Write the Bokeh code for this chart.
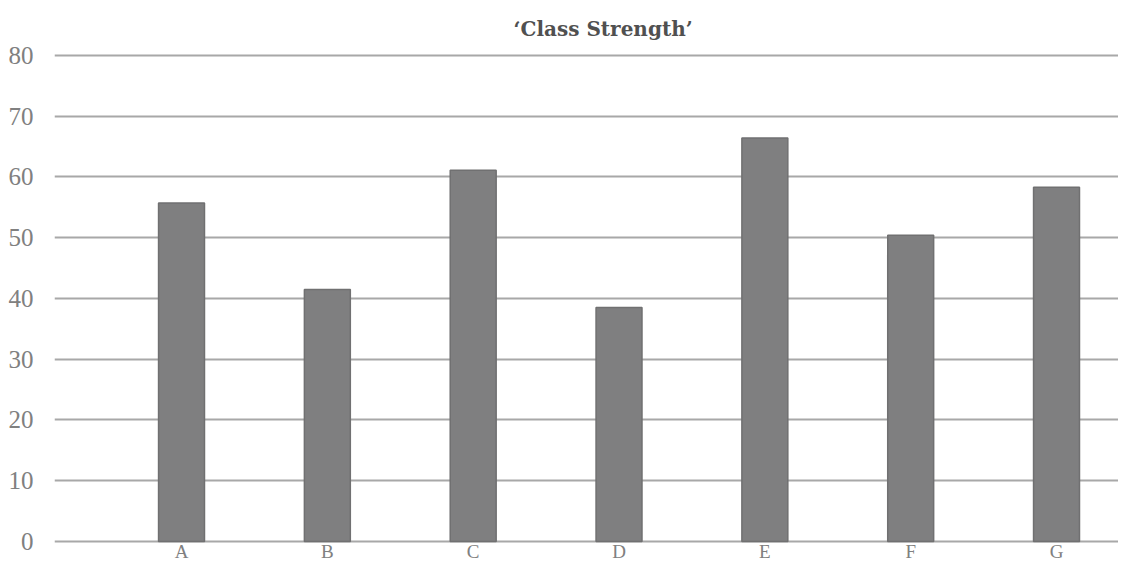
from bokeh.plotting import figure
from bokeh.models import Range1d, FixedTicker
from bokeh.core.properties import value
from bokeh.embed import file_html
from bokeh.resources import INLINE

title_text = "\u2018Class Strength\u2019"
categories = ["A", "B", "C", "D", "E", "F", "G"]
strength = [55.7, 41.5, 61.1, 38.5, 66.4, 50.4, 58.3]
y_ticks = [0, 10, 20, 30, 40, 50, 60, 70, 80]

xs = list(range(len(categories)))

p = figure(width=1118, height=562, output_backend="svg", toolbar_location=None,
           x_range=Range1d(-0.871, 6.425), y_range=Range1d(-3.46, 80.33),
           min_border_left=54, min_border_right=0, min_border_top=53, min_border_bottom=0,
           title=title_text)
p.outline_line_color = None
p.background_fill_color = "white"
p.border_fill_color = "white"

p.title.align = "left"
p.title.text_font = "DejaVu Serif"
p.title.text_font_style = "bold"
p.title.text_font_size = "20px"
p.title.text_line_height = 0.9
p.title.text_color = "#505050"
p.title.offset = 459
p.title.standoff = 26

p.vbar(x=xs, top=strength, width=0.315, fill_color="#7f7f80", line_color="#707071", line_width=1.5)

# category labels under the bars
p.text(x=xs, y=[-3.35] * len(xs), text=categories, text_align="center", text_baseline="bottom",
       text_font=value("Liberation Serif"), text_font_size="19px", text_color="#808080")

p.xaxis.visible = False
p.yaxis.ticker = FixedTicker(ticks=y_ticks)
ax = p.yaxis[0]
ax.axis_line_color = None
ax.major_tick_line_color = None
ax.minor_tick_line_color = None
ax.major_label_text_font = "Liberation Serif"
ax.major_label_text_color = "#808080"
ax.major_label_text_font_size = "25px"
ax.major_label_standoff = 15

p.xgrid.grid_line_color = None
p.ygrid.ticker = FixedTicker(ticks=y_ticks)
p.ygrid.grid_line_color = "#a8a8a8"
p.ygrid.grid_line_width = 2
p.ygrid.level = "underlay"

open("out.html", "w").write(file_html(p, INLINE))
